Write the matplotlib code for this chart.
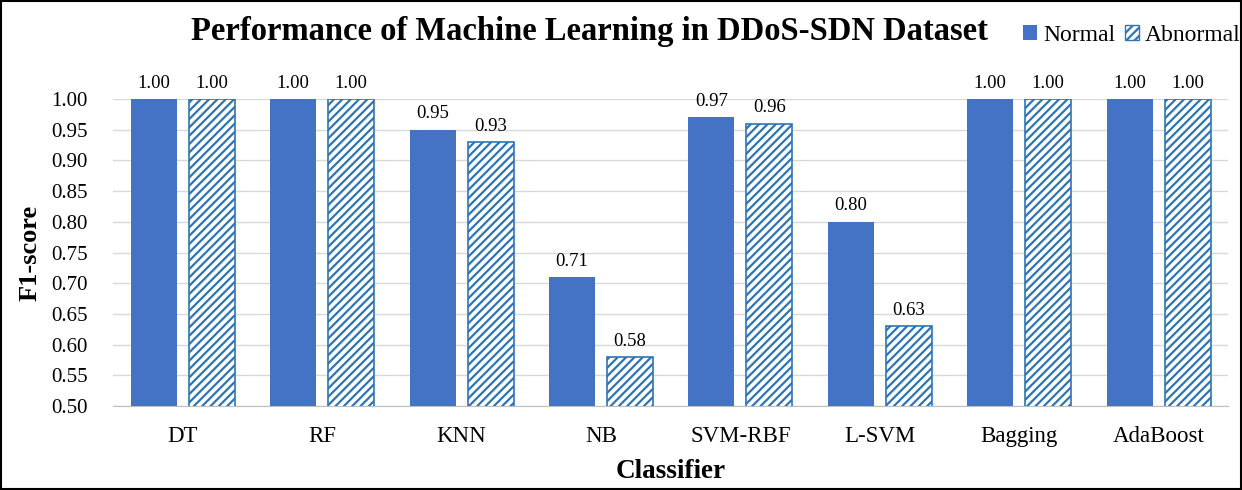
import numpy as np
import matplotlib.pyplot as plt
import matplotlib.patches as mpatches

plt.rcParams['font.family'] = ['Liberation Serif', 'DejaVu Serif']
plt.rcParams['hatch.linewidth'] = 1.6

classifiers = ['DT', 'RF', 'KNN', 'NB', 'SVM-RBF', 'L-SVM', 'Bagging', 'AdaBoost']
normal = [1.00, 1.00, 0.95, 0.71, 0.97, 0.80, 1.00, 1.00]
abnormal = [1.00, 1.00, 0.93, 0.58, 0.96, 0.63, 1.00, 1.00]

c_normal = '#4472C4'
c_abn = '#2E75B6'

fig = plt.figure(figsize=(12.42, 4.9), dpi=100)
ax = fig.add_axes([0.091, 0.171, 0.898, 0.627])

x = np.arange(len(classifiers))
w = 0.33
off = 0.208
b1 = ax.bar(x - off, normal, w, color=c_normal, zorder=3)
b2 = ax.bar(x + off, abnormal, w, color='white', edgecolor=c_abn, hatch='////',
            linewidth=1.2, zorder=3)

for bars, vals in [(b1, normal), (b2, abnormal)]:
    for b, v in zip(bars, vals):
        ax.text(b.get_x() + b.get_width() / 2, v + 0.012, f'{v:.2f}',
                ha='center', va='bottom', fontsize=13.5, clip_on=False)

ax.set_xlim(-0.5, len(classifiers) - 0.5)
ax.set_ylim(0.5, 1.0)
ax.set_yticks(np.arange(0.50, 1.001, 0.05))
ax.set_yticklabels([f'{t:.2f}' for t in np.arange(0.50, 1.001, 0.05)])
ax.set_xticks(x)
ax.set_xticklabels(classifiers)
ax.tick_params(axis='both', length=0)
ax.tick_params(axis='y', pad=18, labelsize=15)
ax.tick_params(axis='x', pad=14, labelsize=16.5)
ax.grid(axis='y', color='#D9D9D9', linewidth=1, zorder=0)
for s in ['top', 'right', 'left']:
    ax.spines[s].set_visible(False)
ax.spines['bottom'].set_color('#BFBFBF')

ax.set_ylabel('F1-score', fontsize=19, fontweight='bold', labelpad=7)
ax.set_xlabel('Classifier', fontsize=19.5, fontweight='bold', labelpad=9)

fig.text(0.475, 0.936, 'Performance of Machine Learning in DDoS-SDN Dataset',
         ha='center', va='center', fontsize=23.5, fontweight='bold')

handles = [mpatches.Patch(facecolor=c_normal, label='Normal'),
           mpatches.Patch(facecolor='white', edgecolor=c_abn, hatch='////', label='Abnormal')]
fig.legend(handles=handles, loc='center right', bbox_to_anchor=(1.016, 0.928), ncol=2,
           frameon=False, fontsize=17, handlelength=0.6, handleheight=0.6,
           handletextpad=0.25, columnspacing=0.4)

fig.add_artist(mpatches.Rectangle((0.001, 0.002), 0.998, 0.996, transform=fig.transFigure,
                                  fill=False, edgecolor='black', linewidth=1.5))

fig.savefig('out.png', dpi=100)
